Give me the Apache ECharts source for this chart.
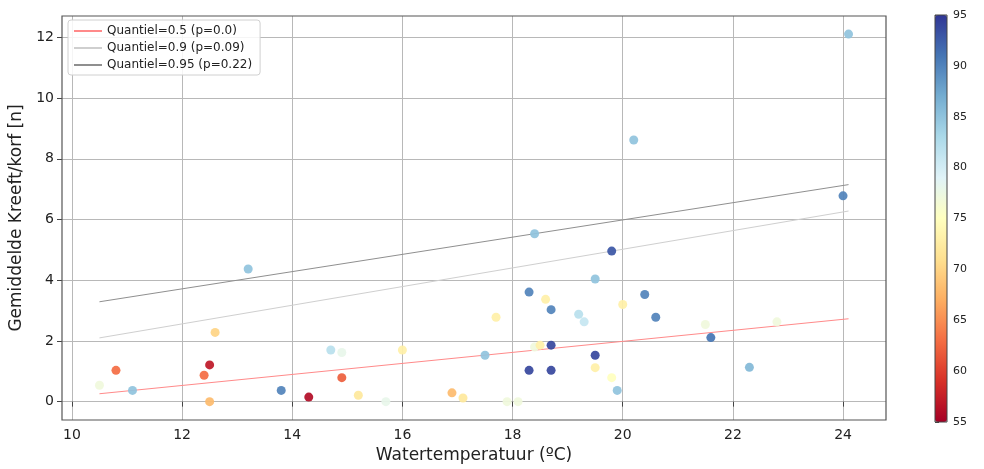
<!DOCTYPE html>
<html>
<head>
<meta charset="utf-8">
<script src="https://cdn.jsdelivr.net/npm/echarts@6/dist/echarts.min.js"></script>
<style>
  html, body { margin: 0; padding: 0; background: #ffffff; }
  #chart { width: 984px; height: 469px; }
</style>
</head>
<body>
<div id="chart"></div>
<script>
// Water temperature (ºC) per sampling
const temperature = [10.5, 10.8, 11.1, 12.4, 12.5, 12.5, 12.6, 13.2, 13.8, 14.3,
  14.7, 14.9, 14.9, 15.2, 15.7, 16.0, 16.9, 17.1, 17.5, 17.7,
  17.9, 18.1, 18.3, 18.3, 18.4, 18.4, 18.5, 18.6, 18.7, 18.7,
  18.7, 19.2, 19.3, 19.5, 19.5, 19.5, 19.8, 19.8, 19.9, 20.0,
  20.2, 20.4, 20.6, 21.5, 21.6, 22.3, 22.8, 24.0, 24.1];
// Mean crayfish per trap
const crayfish = [0.54, 1.03, 0.37, 0.87, 1.21, 0.0, 2.28, 4.37, 0.37, 0.15,
  1.70, 1.62, 0.79, 0.21, 0.0, 1.70, 0.29, 0.12, 1.53, 2.78,
  0.0, 0.0, 3.61, 1.03, 5.53, 1.80, 1.86, 3.37, 3.03, 1.86,
  1.03, 2.88, 2.63, 4.04, 1.53, 1.12, 0.79, 4.96, 0.37, 3.20,
  8.62, 3.53, 2.78, 2.54, 2.11, 1.13, 2.63, 6.78, 12.11];
// Colour variable (colorbar 55–95)
const colourValue = [77, 63, 85, 63, 57, 68, 70, 85, 90, 56,
  82, 78, 62, 72, 78, 73, 68, 72, 85, 73,
  77, 77, 90, 94, 85, 77, 73, 73, 90, 94,
  94, 82, 81, 85, 94, 73, 75, 93, 85, 73,
  85, 90, 90, 77, 91, 86, 77, 90, 85];

// Quantile regression lines: [start, end] points
const quantileNames = ['Quantiel=0.5 (p=0.0)', 'Quantiel=0.9 (p=0.09)', 'Quantiel=0.95 (p=0.22)'];
const quantileX = [10.5, 24.1];
const quantileY = [[0.26, 2.73], [2.10, 6.28], [3.29, 7.15]];
const quantileColors = ['#ff8a8a', '#cfcfcf', '#8f8f8f'];

const xTicks = [10, 12, 14, 16, 18, 20, 22, 24];
const yTicks = [0, 2, 4, 6, 8, 10, 12];
const colourMin = 55, colourMax = 95;

const RdYlBu = ['#a50026', '#d73027', '#f46d43', '#fdae61', '#fee090', '#ffffbf',
  '#e0f3f8', '#abd9e9', '#74add1', '#4575b4', '#313695'];

const FONT = 'DejaVu Sans';
const points = temperature.map((t, i) => [t, crayfish[i], colourValue[i]]);

const chart = echarts.init(document.getElementById('chart'), null, { renderer: 'canvas' });

const lineSeries = quantileNames.map((name, k) => ({
  name: name,
  type: 'line',
  xAxisIndex: 0,
  yAxisIndex: 0,
  symbol: 'none',
  silent: true,
  z: 3,
  lineStyle: { color: quantileColors[k], width: 1 },
  itemStyle: { color: quantileColors[k] },
  data: quantileX.map((x, j) => [x, quantileY[k][j]])
}));

const option = {
  animation: false,
  backgroundColor: '#ffffff',
  textStyle: { fontFamily: FONT },
  grid: [
    { left: 62, right: 98, top: 16, bottom: 47, show: true, borderColor: '#555', borderWidth: 1.2, backgroundColor: 'transparent', z: 1 },
    { left: 935, width: 12, top: 15, height: 407, show: true, borderColor: '#444', borderWidth: 1, backgroundColor: 'transparent', z: 10 }
  ],
  legend: {
    data: quantileNames,
    orient: 'vertical',
    left: 68,
    top: 20,
    padding: [5, 8, 4, 5],
    itemGap: 5,
    itemWidth: 28,
    itemHeight: 11,
    itemStyle: { opacity: 0 },
    backgroundColor: 'rgba(255,255,255,0.85)',
    borderColor: '#d0d0d0',
    borderWidth: 1,
    borderRadius: 3,
    textStyle: { fontFamily: FONT, fontSize: 12, color: '#222' }
  },
  xAxis: [
    {
      gridIndex: 0,
      type: 'value',
      min: 9.82,
      max: 24.78,
      name: 'Watertemperatuur (ºC)',
      nameLocation: 'middle',
      nameGap: 27,
      nameTextStyle: { fontFamily: FONT, fontSize: 17, color: '#222' },
      axisLine: { show: false },
      axisTick: { show: true, length: 5, lineStyle: { color: '#444' }, customValues: xTicks },
      axisLabel: { fontFamily: FONT, fontSize: 14, color: '#222', margin: 8, customValues: xTicks },
      splitLine: { show: true, lineStyle: { color: '#b8b8b8', width: 1 } }
    },
    {
      gridIndex: 1, type: 'value', min: 0, max: 1, show: false
    }
  ],
  yAxis: [
    {
      gridIndex: 0,
      type: 'value',
      min: -0.605,
      max: 12.705,
      name: 'Gemiddelde Kreeft/korf [n]',
      nameLocation: 'middle',
      nameGap: 32,
      nameTextStyle: { fontFamily: FONT, fontSize: 17, color: '#222' },
      axisLine: { show: false },
      axisTick: { show: true, length: 5, lineStyle: { color: '#444' }, customValues: yTicks },
      axisLabel: { fontFamily: FONT, fontSize: 14, color: '#222', margin: 8, customValues: yTicks },
      splitLine: { show: true, lineStyle: { color: '#b8b8b8', width: 1 } }
    },
    {
      gridIndex: 1,
      type: 'value',
      position: 'right',
      min: colourMin,
      max: colourMax,
      interval: 5,
      axisLine: { show: false },
      axisTick: { show: true, length: 4, lineStyle: { color: '#444' } },
      axisLabel: { fontFamily: FONT, fontSize: 11, color: '#222', margin: 6 },
      splitLine: { show: false }
    }
  ],
  visualMap: {
    type: 'continuous',
    seriesIndex: 0,
    dimension: 2,
    min: colourMin,
    max: colourMax,
    calculable: false,
    hoverLink: false,
    realtime: false,
    inRange: { color: RdYlBu },
    itemWidth: 12,
    itemHeight: 407,
    left: 935,
    top: 15,
    padding: 0,
    text: null,
    showLabel: false,
    z: 4
  },
  series: [
    {
      type: 'scatter',
      xAxisIndex: 0,
      yAxisIndex: 0,
      symbolSize: 9,
      z: 4,
      itemStyle: { opacity: 0.92 },
      data: points
    }
  ].concat(lineSeries)
};

chart.setOption(option);
</script>
</body>
</html>
